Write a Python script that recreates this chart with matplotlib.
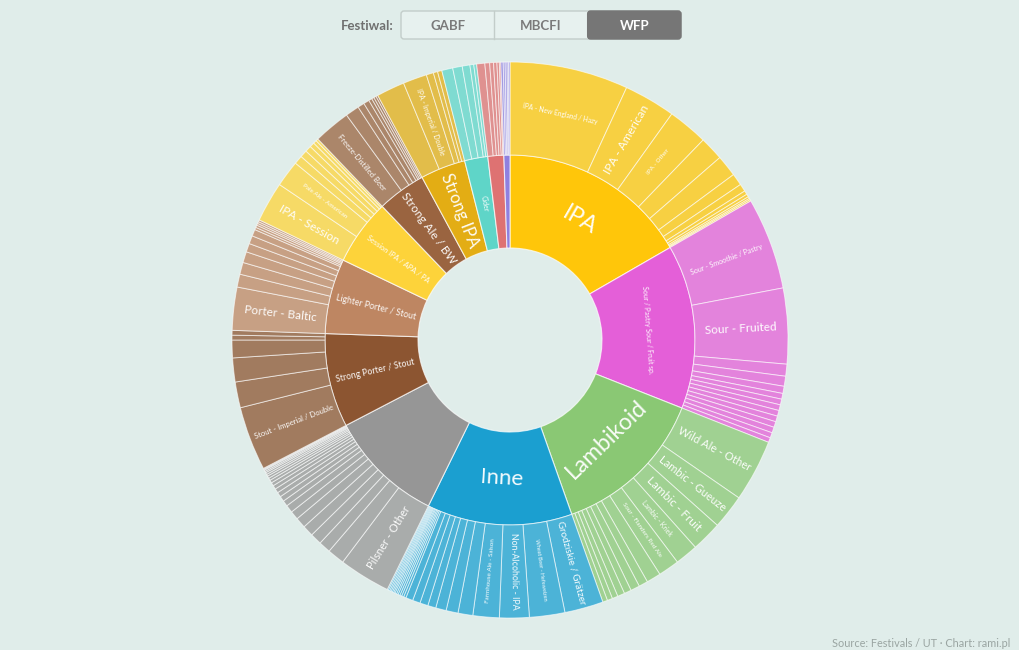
import numpy as np
import matplotlib.pyplot as plt
from matplotlib.patches import FancyBboxPatch, Rectangle
from matplotlib.colors import to_rgb

#--------------------------------------------------------------------------------------------------
# Data (arbitrary units)
parents = ["IPA", "Sour / Pastry Sour / Fruit sp.", "Lambikoid", "Inne", "",
           "Strong Porter / Stout", "Lighter Porter / Stout", "Session IPA / APA / PA",
           "Strong Ale / BW", "Strong IPA", "Cider", "", ""]
parent_colors = ["#FFC60A", "#E45FD8", "#8AC874", "#1B9FD0", "#969696",
                 "#8C5531", "#BE8662", "#FDD33A", "#9A6440", "#E3AD14",
                 "#5FD5C8", "#DE7272", "#8F80DF"]

ipa_names = ["IPA - New England / Hazy", "IPA - American", "IPA - Other", "", "", "", "", "", "", "", "", ""]
ipa_vals = [24.8, 10.8, 8.4, 5.0, 4.5, 2.5, 1.6, 0.8, 0.6, 0.4, 0.3, 0.3]

sour_names = ["Sour - Smoothie / Pastry", "Sour - Fruited", "", "", "", "", "", "", "", "", "", "", "", ""]
sour_vals = [19.2, 15.8, 2.5, 2.1, 1.5, 1.2, 1.2, 1.2, 1.2, 1.2, 1.2, 1.2, 1.1, 1.0]

lamb_names = ["Wild Ale - Other", "Lambic - Gueuze", "Lambic - Fruit", "Lambic - Kriek",
              "Sour - Flanders Red Ale", "", "", "", "", "", "", "", ""]
lamb_vals = [13.0, 7.2, 6.4, 4.8, 4.4, 3.0, 1.9, 1.9, 1.5, 1.5, 1.2, 1.1, 1.0]

inne_names = ["Grodziskie / Grätzer", "Wheat Beer - Hefeweizen", "Non-Alcoholic - IPA",
              "Farmhouse Ale - Saison", "", "", "", "", "", "", "", "", "", "", "", "", "", "", "", "", "", "", ""]
inne_vals = [8.1, 7.4, 6.2, 5.5, 3.1, 2.5, 2.2, 1.7, 1.7, 1.6, 1.5,
             0.5, 0.45, 0.4, 0.4, 0.35, 0.35, 0.3, 0.3, 0.3, 0.3, 0.3, 0.25]

lager_names = ["Pilsner - Other", "", "", "", "", "", "", "", "", "", "", "", "", "", "", "", "", "", "", "", "", "", ""]
lager_vals = [10.8, 3.6, 2.5, 2.4, 2.3, 2.2, 1.8, 1.6, 1.2, 1.1, 1.0, 0.9,
              0.8, 0.7, 0.6, 0.5, 0.5, 0.4, 0.4, 0.3, 0.3, 0.2, 0.2]

sporter_names = ["Stout - Imperial / Double", "", "", "", "", ""]
sporter_vals = [13.4, 5.4, 5.0, 3.7, 1.0, 1.0]

lporter_names = ["Porter - Baltic", "", "", "", "", "", "", "", "", "", "", ""]
lporter_vals = [9.0, 2.7, 2.5, 2.3, 1.8, 1.7, 1.4, 0.5, 0.5, 0.4, 0.4, 0.4]

session_names = ["IPA - Session", "Pale Ale - American", "", "", "", "", "", ""]
session_vals = [8.4, 5.5, 1.8, 1.5, 1.3, 1.0, 0.7, 0.5]

sale_names = ["Freeze-Distilled Beer", "", "", "", "", "", "", ""]
sale_vals = [7.7, 2.9, 1.4, 1.2, 0.7, 0.5, 0.5, 0.4]

sipa_names = ["", "IPA - Imperial / Double", "", "", ""]
sipa_vals = [5.9, 5.0, 1.5, 0.9, 0.9]

cider_names = ["", "", "", "", ""]
cider_vals = [2.3, 2.0, 1.6, 0.8, 0.6]

red_names = ["", "", "", "", "", ""]
red_vals = [1.7, 1.0, 0.8, 0.7, 0.5, 0.3]

purple_names = ["", "", "", "", ""]
purple_vals = [0.5, 0.4, 0.4, 0.3, 0.3]

buttons = ["GABF", "MBCFI", "WFP"]
selected = "WFP"

#--------------------------------------------------------------------------------------------------
# Label styles: (font size, orientation)
label_fmt = {
    "IPA": (16.5, "tan"),
    "Sour / Pastry Sour / Fruit sp.": (5, "tan"),
    "Lambikoid": (16.5, "tan"),
    "Inne": (16, "tan"),
    "Strong Porter / Stout": (6.2, "rad"),
    "Lighter Porter / Stout": (6.2, "rad"),
    "Session IPA / APA / PA": (5.3, "rad"),
    "Strong Ale / BW": (8.5, "rad"),
    "Strong IPA": (12, "rad"),
    "Cider": (5, "rad"),
    "IPA - New England / Hazy": (4.8, "tan"),
    "IPA - American": (8.5, "rad"),
    "IPA - Other": (4.5, "rad"),
    "Sour - Smoothie / Pastry": (5, "rad"),
    "Sour - Fruited": (8.5, "rad"),
    "Wild Ale - Other": (8, "rad"),
    "Lambic - Gueuze": (8, "rad"),
    "Lambic - Fruit": (8.5, "rad"),
    "Lambic - Kriek": (5, "rad"),
    "Sour - Flanders Red Ale": (4.5, "rad"),
    "Grodziskie / Grätzer": (7, "rad"),
    "Wheat Beer - Hefeweizen": (4, "rad"),
    "Non-Alcoholic - IPA": (6.3, "rad"),
    "Farmhouse Ale - Saison": (4.5, "rad"),
    "Pilsner - Other": (8, "rad"),
    "Stout - Imperial / Double": (5.5, "rad"),
    "Porter - Baltic": (8.5, "rad"),
    "IPA - Session": (8.5, "rad"),
    "Pale Ale - American": (4.5, "rad"),
    "Freeze-Distilled Beer": (5.5, "rad"),
    "IPA - Imperial / Double": (5, "rad"),
}

bg = "#E0EDEA"
plt.rcParams['font.family'] = ['Lato', 'DejaVu Sans']

children_names = [ipa_names, sour_names, lamb_names, inne_names, lager_names, sporter_names,
                  lporter_names, session_names, sale_names, sipa_names, cider_names,
                  red_names, purple_names]
children_vals = [ipa_vals, sour_vals, lamb_vals, inne_vals, lager_vals, sporter_vals,
                 lporter_vals, session_vals, sale_vals, sipa_vals, cider_vals,
                 red_vals, purple_vals]
parent_vals = [sum(v) for v in children_vals]

outer_vals, outer_names, outer_colors = [], [], []
for c, names, vals in zip(parent_colors, children_names, children_vals):
    light = 0.75 * np.array(to_rgb(c)) + 0.25 * np.array(to_rgb(bg))
    for n, v in zip(names, vals):
        outer_vals.append(v)
        outer_names.append(n)
        outer_colors.append(light)

#--------------------------------------------------------------------------------------------------
# Plot
R_HOLE, R_MID, R_OUT = 92, 185, 278

fig = plt.figure(figsize=(10.2, 6.5), dpi=100)
fig.patch.set_facecolor(bg)
ax = fig.add_axes([0, 0, 1, 1])
ax.set_facecolor(bg)

w_in, _ = ax.pie(parent_vals, radius=R_MID, startangle=90, counterclock=False,
                 colors=parent_colors,
                 wedgeprops=dict(width=R_MID - R_HOLE, edgecolor=(1, 1, 1, 0.7), linewidth=0.8))
w_out, _ = ax.pie(outer_vals, radius=R_OUT, startangle=90, counterclock=False,
                  colors=outer_colors,
                  wedgeprops=dict(width=R_OUT - R_MID, edgecolor=(1, 1, 1, 0.6), linewidth=0.7))

ax.set_xlim(-510, 510)
ax.set_ylim(-310, 340)
ax.set_aspect('equal')
ax.axis('off')


def put_label(wedge, name, r):
    if not name or name not in label_fmt:
        return
    size, orient = label_fmt[name]
    mid = (wedge.theta1 + wedge.theta2) / 2
    x, y = r * np.cos(np.radians(mid)), r * np.sin(np.radians(mid))
    rot = mid if orient == "rad" else mid - 90
    while rot > 90:
        rot -= 180
    while rot < -90:
        rot += 180
    ax.text(x, y, name, rotation=rot, rotation_mode='anchor', ha='center', va='center',
            fontsize=size, color='white', alpha=0.95)


for w, n in zip(w_in, parents):
    put_label(w, n, (R_HOLE + R_MID) / 2)
for w, n in zip(w_out, outer_names):
    put_label(w, n, (R_MID + R_OUT) / 2)

#--------------------------------------------------------------------------------------------------
# Festival switch on top, in pixel coords
ui = fig.add_axes([0, 0, 1, 1])
ui.set_xlim(0, 1020)
ui.set_ylim(650, 0)
ui.axis('off')

bx, by, bw, bh = 401, 11, 280, 28
ui.add_patch(FancyBboxPatch((bx, by), bw, bh, boxstyle="round,pad=0,rounding_size=3",
                            facecolor="#E7F1EF", edgecolor="#C3CDCA", linewidth=1))
seg = bw / len(buttons)
for i, b in enumerate(buttons):
    x0 = bx + i * seg
    if b == selected:
        ui.add_patch(FancyBboxPatch((x0, by), seg, bh, boxstyle="round,pad=0,rounding_size=3",
                                    facecolor="#767676", edgecolor="#767676", linewidth=1))
        ui.add_patch(Rectangle((x0, by), 5, bh, facecolor="#767676", edgecolor="none"))
    elif i > 0:
        ui.plot([x0, x0], [by, by + bh], color="#C3CDCA", lw=1)
    ui.text(x0 + seg / 2, by + bh / 2 + 1, b, ha='center', va='center', fontsize=9.5,
            fontweight='bold', color='white' if b == selected else '#7A7A7A')

ui.text(394, by + bh / 2 + 1, "Festiwal:", ha='right', va='center', fontsize=9.5,
        fontweight='bold', color='#707070')

ui.text(1010, 649, "Source: Festivals / UT · Chart: rami.pl", ha='right', va='bottom',
        fontsize=7.8, color='#9AA5A2')

fig.savefig("out.png", dpi=100, facecolor=bg)
